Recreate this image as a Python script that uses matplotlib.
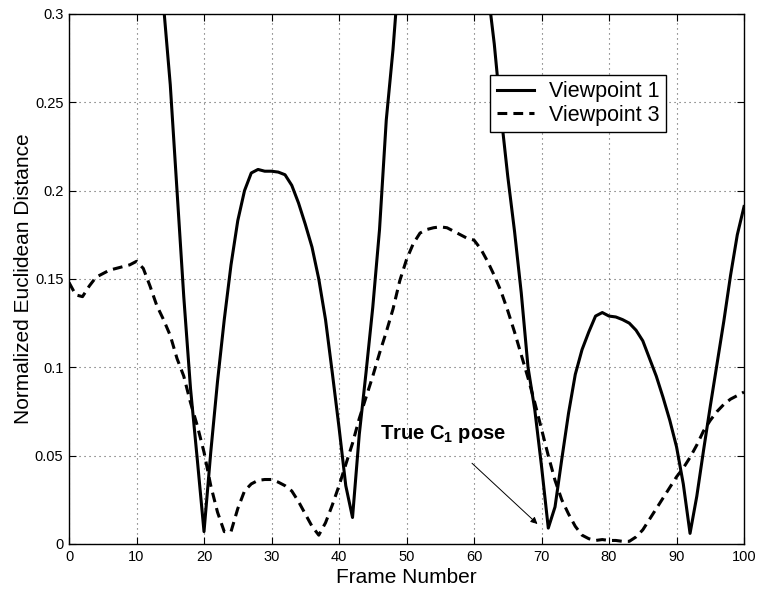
import numpy as np
import matplotlib
matplotlib.use('Agg')
import matplotlib.pyplot as plt

plt.rcParams['font.family'] = ['Liberation Sans', 'DejaVu Sans']
plt.rcParams['mathtext.fontset'] = 'custom'
plt.rcParams['mathtext.rm'] = 'Liberation Sans'
plt.rcParams['mathtext.bf'] = 'Liberation Sans:bold'

frames = np.arange(0, 101)

# distance to the model pose, one value per frame (values above 0.3 run off the top)
viewpoint1 = [0.62, 0.63, 0.63, 0.62, 0.61, 0.59, 0.57, 0.55, 0.52, 0.49,
              0.46, 0.43, 0.39, 0.35, 0.305, 0.26, 0.20, 0.14, 0.088, 0.048,
              0.007, 0.052, 0.092, 0.127, 0.158, 0.183, 0.200, 0.210, 0.212, 0.211,
              0.211, 0.2105, 0.209, 0.203, 0.193, 0.181, 0.168, 0.150, 0.127, 0.097,
              0.066, 0.033, 0.015, 0.062, 0.097, 0.134, 0.178, 0.240, 0.28, 0.33,
              0.37, 0.40, 0.43, 0.45, 0.46, 0.465, 0.46, 0.45, 0.43, 0.41,
              0.38, 0.35, 0.315, 0.283, 0.243, 0.208, 0.177, 0.142, 0.100, 0.076,
              0.044, 0.009, 0.021, 0.048, 0.074, 0.096, 0.110, 0.120, 0.129, 0.131,
              0.129, 0.1285, 0.127, 0.125, 0.121, 0.115, 0.105, 0.095, 0.083, 0.070,
              0.055, 0.034, 0.006, 0.027, 0.053, 0.078, 0.102, 0.126, 0.152, 0.175,
              0.191]

viewpoint3 = [0.148, 0.141, 0.140, 0.146, 0.151, 0.153, 0.155, 0.156, 0.157, 0.158,
              0.160, 0.156, 0.146, 0.135, 0.127, 0.118, 0.105, 0.095, 0.080, 0.067,
              0.052, 0.033, 0.018, 0.007, 0.007, 0.020, 0.030, 0.034, 0.036, 0.0365,
              0.0365, 0.035, 0.033, 0.030, 0.024, 0.017, 0.010, 0.005, 0.012, 0.022,
              0.033, 0.045, 0.057, 0.071, 0.083, 0.095, 0.108, 0.120, 0.133, 0.149,
              0.161, 0.170, 0.176, 0.178, 0.179, 0.1795, 0.179, 0.177, 0.175, 0.173,
              0.172, 0.167, 0.160, 0.152, 0.143, 0.132, 0.120, 0.107, 0.094, 0.080,
              0.065, 0.050, 0.036, 0.025, 0.017, 0.010, 0.005, 0.003, 0.002, 0.0025,
              0.002, 0.002, 0.0015, 0.0015, 0.004, 0.008, 0.014, 0.020, 0.026, 0.032,
              0.038, 0.043, 0.049, 0.056, 0.064, 0.070, 0.075, 0.079, 0.082, 0.084,
              0.086]

fig = plt.figure(figsize=(7.6, 5.92), dpi=100)
ax = fig.add_axes([0.0908, 0.0811, 0.8882, 0.8953])

ax.plot(frames, viewpoint1, color='black', lw=2.2, label='Viewpoint 1')
l3, = ax.plot(frames, viewpoint3, color='black', lw=2.2, label='Viewpoint 3')
l3.set_dashes([3.2, 2.0])

ax.set_xlim(0, 100)
ax.set_ylim(0, 0.3)
ax.set_xticks(np.arange(0, 101, 10))
ax.set_yticks([0, 0.05, 0.1, 0.15, 0.2, 0.25, 0.3])
ax.set_yticklabels(['0', '0.05', '0.1', '0.15', '0.2', '0.25', '0.3'])
ax.tick_params(direction='in', top=True, right=True, length=5, width=0.8,
               labelsize=10.5, pad=4)
ax.grid(True, color='0.35', lw=0.8, linestyle=(0, (1, 3.5)))
for s in ax.spines.values():
    s.set_linewidth(1.0)

ax.set_xlabel('Frame Number', fontsize=15, labelpad=3)
ax.set_ylabel('Normalized Euclidean Distance', fontsize=15, labelpad=1)

ax.annotate('', xy=(69.4, 0.0113), xytext=(59.7, 0.0457),
            arrowprops=dict(arrowstyle='-|>', color='black', lw=0.7,
                            mutation_scale=10, shrinkA=0, shrinkB=0))
ax.text(46.1, 0.0595, r'True $\mathbf{C_1}$ pose', fontsize=14.5,
        fontweight='bold', ha='left', va='baseline')

leg = ax.legend(loc='upper left', bbox_to_anchor=(0.624, 0.885), fontsize=15.5,
                frameon=True, fancybox=False, framealpha=1, edgecolor='black',
                handlelength=1.75, handletextpad=0.7, borderpad=0.3,
                labelspacing=0.12, borderaxespad=0)
leg.get_frame().set_linewidth(1.0)

fig.savefig('out.png', dpi=100)
